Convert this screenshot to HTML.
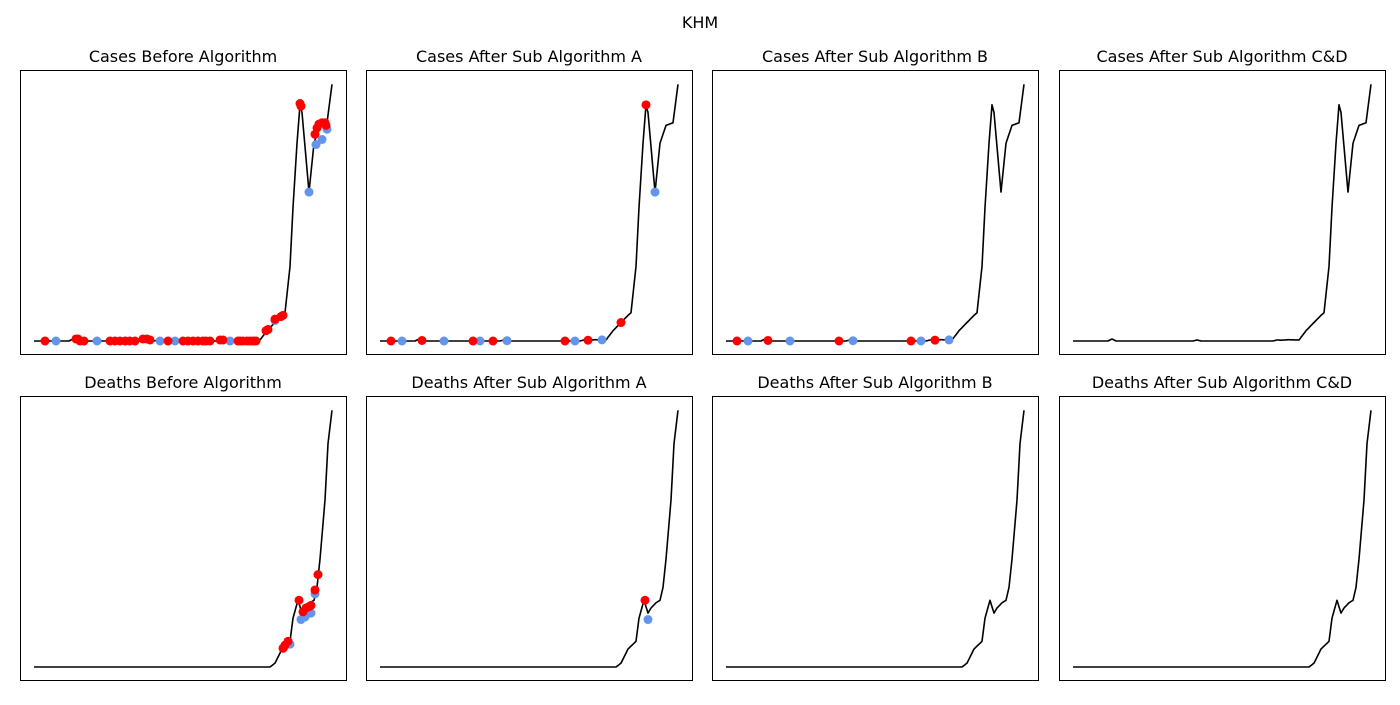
<!DOCTYPE html>
<html><head><meta charset="utf-8"><style>
body{margin:0;background:#fff;font-family:"Liberation Sans","DejaVu Sans",sans-serif}
svg text{font-family:"DejaVu Sans","Liberation Sans",sans-serif}
</style></head><body>
<svg id="fig" width="1400" height="700"></svg>
<script>
const caseDays=[0,35,39,43,47,120,124,128,200,204,208,215,226,233,248,251,256,259,263,266,268,275,280,286,293,298];
const caseVals=[0,0,0.8,0,0,0,0.4,0,0,0.4,0.3,0.5,0.4,4,10,11,29,52,77,92,89,58,77,84,85,100];
const deathDays=[0,236,241,248,256,259,264,268,271,276,280,283,286,291,294,298];
const deathVals=[0,0,1.5,7,10,19,26,21,23,25,26,31,42,65,87,100];
const c1RedDays=[11,42,44,46,50,76,81,86,91,96,101,109,113,116,134,149,154,159,164,169,172,176,186,189,204,206,209,213,216,219,222,232,234,241,247,249,266,267,281,283,285,288,291,292];
const c1RedVals=[0,0.8,0.8,0,0,0,0,0,0,0,0,0.8,0.8,0.4,0,0,0,0,0,0,0,0,0.4,0.4,0,0,0,0,0,0,0,4,4.5,8.5,9.5,10,92.5,91.5,80.5,83,84.5,85,85,84];
const c1BlueDays=[22,63,126,141,196,241,275,282,288,293];
const c1BlueVals=[0,0,0,0,0,8,58,76.5,78.5,82.5];
const aRedDays=[11,42,93,113,185,208,241,266];
const aBlueDays=[22,64,100,127,195,222,275];
const bRedDays=[11,42,113,185,209];
const bBlueDays=[22,64,127,195,223];
const d1RedDays=[249,251,254,265,269,272,275,277,281,284];
const d1RedVals=[7.3,8.5,10,26,21.5,23,23.5,24,30,36];
const d1BlueDays=[250,256,267,271,277,281];
const d1BlueVals=[7.7,8.9,18.5,19.5,21,28.5];
const aDRedDays=[265];const aDRedVals=[26];
const aDBlueDays=[268];const aDBlueVals=[18.5];

const NS="http://www.w3.org/2000/svg";
const svg=document.getElementById('fig');
function mk(tag,attrs,parent){const e=document.createElementNS(NS,tag);for(const k in attrs)e.setAttribute(k,attrs[k]);(parent||svg).appendChild(e);return e;}
function interp(days,vals,d){for(let i=0;i<days.length-1;i++){if(d>=days[i]&&d<=days[i+1]){const t=(d-days[i])/(days[i+1]-days[i]);return vals[i]+t*(vals[i+1]-vals[i]);}}return vals[vals.length-1];}
const t=mk('text',{x:700,y:28,'text-anchor':'middle','font-size':16,fill:'#000'});


t.textContent='KHM';
const colsX=[20,366,712,1059];
function panel(col,row,title,days,vals,reds,blues){
  const px=colsX[col],py=row?396:70,w=326,h=284;
  const g=mk('g',{});
  
  
  const xS=d=>px+14+d*(w-28)/298;
  const yS=v=>py+h-13-v*(h-26)/100*0.995;
  const tt=mk('text',{x:px+w/2,y:py-8,'text-anchor':'middle','font-size':16,fill:'#000'},g);
  
  
  tt.textContent=title;
  let d='';for(let i=0;i<=298;i++){d+=(i?'L':'M')+xS(i).toFixed(1)+','+yS(interp(days,vals,i)).toFixed(1);}
  const ln=mk('path',{d:d,fill:'none',stroke:'#000','stroke-width':1.6,'stroke-linejoin':'round'},g);
  
  
  const [bd,bv]=blues,[rd,rv]=reds;
  bd.forEach((dd,i)=>{const c=mk('circle',{cx:xS(dd),cy:yS(bv?bv[i]:interp(days,vals,dd)),r:4.5,fill:'#6495ed'},g);
    
    });
  rd.forEach((dd,i)=>{const c=mk('circle',{cx:xS(dd),cy:yS(rv?rv[i]:interp(days,vals,dd)),r:4.5,fill:'#ff0000'},g);
    
    });
  const fr=mk('rect',{x:px+0.5,y:py+0.5,width:w,height:h,fill:'none',stroke:'#000','stroke-width':1},g);
  
  
}
panel(0,0,'Cases Before Algorithm',caseDays,caseVals,[c1RedDays,c1RedVals],[c1BlueDays,c1BlueVals]);
panel(1,0,'Cases After Sub Algorithm A',caseDays,caseVals,[aRedDays,null],[aBlueDays,null]);
panel(2,0,'Cases After Sub Algorithm B',caseDays,caseVals,[bRedDays,null],[bBlueDays,null]);
panel(3,0,'Cases After Sub Algorithm C&D',caseDays,caseVals,[[],null],[[],null]);
panel(0,1,'Deaths Before Algorithm',deathDays,deathVals,[d1RedDays,d1RedVals],[d1BlueDays,d1BlueVals]);
panel(1,1,'Deaths After Sub Algorithm A',deathDays,deathVals,[aDRedDays,aDRedVals],[aDBlueDays,aDBlueVals]);
panel(2,1,'Deaths After Sub Algorithm B',deathDays,deathVals,[[],null],[[],null]);
panel(3,1,'Deaths After Sub Algorithm C&D',deathDays,deathVals,[[],null],[[],null]);
</script>
</body></html>
